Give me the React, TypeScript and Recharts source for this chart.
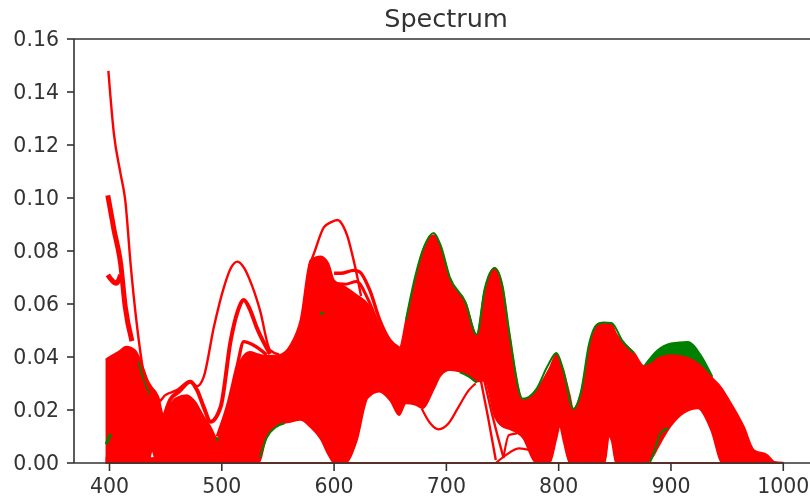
import React from "react";
import { ComposedChart, Area, Line, XAxis, YAxis, ReferenceLine } from "recharts";

const xTicks = [400, 500, 600, 700, 800, 900, 1000];
const yTicks = [0, 0.02, 0.04, 0.06, 0.08, 0.1, 0.12, 0.14, 0.16];

// wavelength, upper envelope, lower envelope
const redBand: number[][] = [
  [396.5, .039, 0], [400, .04, 0], [408, .042, 0], [415, .044, 0], [423, .0425, 0], [430, .036, 0], [435, .0305, .001], [438, .0285, .0045], [441, .027, .001],
  [444, .0245, 0], [447, .019, 0], [449, .0175, 0], [454, .022, 0], [459, .0245, 0], [469, .0257, 0], [472, .025, 0],
  [476.5, .023, 0], [484, .0175, 0], [490, .0137, 0], [496, .0093, 0], [502, .0175, 0], [505, .02, 0], [511, .029, 0],
  [517, .039, 0], [525, .042, 0], [533, .041, 0], [540, .0405, .0099], [551, .0408, .0145], [561, .0445, .0155],
  [570, .054, .0162], [579, .0766, .0135], [588, .078, .009], [595, .0753, .003], [600, .069, 0], [610, .0665, 0],
  [620, .0635, .008], [630, .06, .0245], [640, .052, .0269], [650, .046, .0235], [658, .0433, .018], [664, .054, .0225],
  [672, .069, .022], [679, .0804, .0206], [689, .086, .028], [695, .0816, .033], [703, .0697, .035], [717.5, .0603, .0335],
  [727, .0483, .0307], [734, .0653, .031], [743, .0735, .0175], [750, .0665, .0137], [756, .049, .0128], [768, .0238, .0095],
  [780, .0275, 0], [792, .036, 0], [798, .0411, .009], [801, .038, .0137], [804, .0351, .0087], [810, .0255, 0], [813, .0203, 0],
  [820, .0269, 0], [827.5, .0439, 0], [836, .0527, 0], [841, .0527, 0], [845, .0527, .0099], [847, .0527, .0085], [851, .049, 0],
  [857, .0458, 0], [867.5, .0414, 0], [876, .0366, 0], [884, .038, .0024], [888, .0395, .0055], [900, .0408, .014],
  [912, .0401, .019], [924, .0376, .0206], [935.6, .0326, .0125], [945.7, .028, 0], [950, .025, 0], [965, .0137, 0],
  [974, .0049, 0], [986, .003, 0], [992, .0005, 0], [1000, .0002, 0],
];
const redFloor: number[][] = [[396.5, .002, 0], [480, .002, 0]];

const greenHump: number[][] = [
  [876, .0366, .03], [888, .0426, .03], [900, .0452, .03], [915, .0458, .03], [926.5, .0408, .03], [937, .0326, .028],
];

const greenUpper: number[][] = [
  [664, .054], [672, .07], [680, .0815], [688.7, .0868], [695, .082], [703, .0702], [717, .0607], [727, .0485], [734, .0655],
  [743, .0736], [750, .0668], [756, .0495], [768, .0242], [780, .0278], [790, .0365], [798, .0415], [804, .0353], [813, .0205],
  [820, .0272], [827, .0448], [834, .0522], [840, .053], [847, .0528], [857, .046], [867, .0416],
];
const greenLowerA: number[][] = [[881, 0], [885, .004], [890, .0106], [897, .0132]];
const greenLowerB: number[][] = [[534, .002], [540, .0095], [548, .0135], [556, .015]];
const greenLowerC: number[][] = [[712, .0342], [720, .0326], [727, .0303]];
const greenLeft: number[][] = [[426, .038], [431, .031], [436, .026]];
const greenSpeckA: number[][] = [[587.5, .0565], [590.5, .0565]];
const greenSpeckB: number[][] = [[494.5, .009], [497, .009]];
const greenSpeckC: number[][] = [[397, .007], [401, .011]];

const zeroLine: number[][] = [[400, 0], [1000, 0]];

const spikeTop: number[][] = [
  [399, .148], [403.9, .1244], [409.8, .1093], [414, .0993], [419, .0741], [425, .05], [430, .035], [436, .0275], [443, .023],
  [450, .0257], [460, .0275], [472, .031], [478, .029], [484, .0326], [493, .0514], [502, .0665], [508, .0735], [514, .076],
  [520, .0735], [525, .069], [534, .0577], [543, .0426], [551, .041],
];
const humpTop: number[][] = [
  [578, .0745], [582, .079], [591, .089], [597, .0908], [603, .0917], [608, .0895], [612, .0854], [616, .079], [620, .0716], [624, .063],
];
const spikeThick: number[][] = [[398.5, .101], [404, .088], [410, .075], [414, .059], [420, .046]];
const spikeBranch: number[][] = [[398.5, .071], [402, .069], [406, .0678], [410, .071]];
const ridgeA: number[][] = [
  [447, .015], [454, .0238], [462, .027], [472, .0307], [478, .0275], [484, .021], [490, .0156], [499, .0212], [508, .0464],
  [514, .057], [519.6, .0615], [525, .058], [531, .0512], [543, .0411],
];
const ridgeB: number[][] = [[496, .01], [505, .0213], [513.6, .0364], [519.6, .0458], [528, .0445], [540, .0408]];
const shoulderA: number[][] = [
  [600, .0716], [606, .0716], [617.5, .0727], [622.5, .0722], [631.7, .0653], [640.6, .054], [649.5, .0464], [658, .0433],
];
const shoulderB: number[][] = [[598, .0678], [610, .0675], [620, .0685], [630, .062], [640, .052], [650, .045]];
const dipLine: number[][] = [
  [678, .0206], [685.6, .015], [693, .0127], [702, .015], [711, .0213], [720, .0275], [726, .03],
];
const dropA: number[][] = [[730, .0326], [737, .0175], [744, .0011]];
const dropB: number[][] = [[733, .0326], [742, .0162], [751, .0018]];
const footA: number[][] = [[744, 0], [753, .003], [765, .0055], [774, .0049]];
const footB: number[][] = [[751, .0024], [755.7, .0106], [763, .0112]];

const toLine = (pts: number[][]) => pts.map(([nm, v]) => ({ nm, v }));
const toBand = (pts: number[][]) => pts.map(([nm, hi, lo]) => ({ nm, range: [lo, hi] }));

const RED = "#ff0000";
const GREEN = "#008000";
const INK = "#333333";

const redLines: [number[][], number][] = [
  [spikeTop, 2.4], [humpTop, 2.4], [spikeThick, 5], [spikeBranch, 5], [ridgeA, 4], [ridgeB, 3.4],
  [shoulderA, 3.4], [shoulderB, 3], [dipLine, 2.2], [dropA, 2.4], [dropB, 2.4], [footA, 2.2], [footB, 2.2],
];

export default function App() {
  const tick = { fill: INK, fontSize: 20.5, fontFamily: "DejaVu Sans" };
  return (
    <div style={{ position: "absolute", left: 0, top: 0, width: 810, height: 497, overflow: "hidden", filter: "blur(0.7px)" }}>
      <div
        style={{
          position: "absolute", left: 0, width: 892, top: 3, textAlign: "center",
          fontFamily: "DejaVu Sans", fontSize: 25.5, color: INK,
        }}
      >
        Spectrum
      </div>
      <ComposedChart width={810} height={497} margin={{ top: 39, right: 0, bottom: 0, left: 0 }}>
        <XAxis
          type="number" dataKey="nm" domain={[368.4, 1023.8]} ticks={xTicks} height={34} interval={0}
          allowDuplicatedCategory={false} tick={tick} tickSize={8} tickMargin={7}
          stroke={INK} tickLine={{ stroke: INK, strokeWidth: 1.6 }} axisLine={{ stroke: INK, strokeWidth: 1.6 }}
        />
        <YAxis
          type="number" domain={[0, 0.16]} ticks={yTicks} width={74} interval={0}
          tickFormatter={(v: number) => v.toFixed(2)} tick={tick} tickSize={7} tickMargin={8}
          stroke={INK} tickLine={{ stroke: INK, strokeWidth: 1.6 }} axisLine={{ stroke: INK, strokeWidth: 1.6 }}
        />
        <ReferenceLine y={0.16} stroke={INK} strokeWidth={1.6} />
        <Area data={toBand(greenHump)} dataKey="range" type="monotone" fill={GREEN} fillOpacity={1} stroke={GREEN} strokeWidth={1.5} isAnimationActive={false} dot={false} activeDot={false} />
        {[greenUpper, greenLowerA, greenLowerB, greenLowerC, greenLeft].map((pts, i) => (
          <Line key={i} data={toLine(pts)} dataKey="v" type="monotone" stroke={GREEN} strokeWidth={2} dot={false} activeDot={false} isAnimationActive={false} />
        ))}
        <Area data={toBand(redFloor)} dataKey="range" type="linear" fill={RED} fillOpacity={1} stroke={RED} strokeWidth={1} isAnimationActive={false} dot={false} activeDot={false} />
        <Area data={toBand(redBand)} dataKey="range" type="monotone" fill={RED} fillOpacity={1} stroke={RED} strokeWidth={1.5} isAnimationActive={false} dot={false} activeDot={false} />
        {redLines.map(([pts, w], i) => (
          <Line key={i} data={toLine(pts)} dataKey="v" type="monotone" stroke={RED} strokeWidth={w} dot={false} activeDot={false} isAnimationActive={false} />
        ))}
        {[greenSpeckA, greenSpeckB, greenSpeckC].map((pts, i) => (
          <Line key={i} data={toLine(pts)} dataKey="v" type="linear" stroke={GREEN} strokeWidth={3} dot={false} activeDot={false} isAnimationActive={false} />
        ))}
        <Line data={toLine(zeroLine)} dataKey="v" type="linear" stroke="#c8290f" strokeWidth={2} dot={false} activeDot={false} isAnimationActive={false} />
      </ComposedChart>
    </div>
  );
}
